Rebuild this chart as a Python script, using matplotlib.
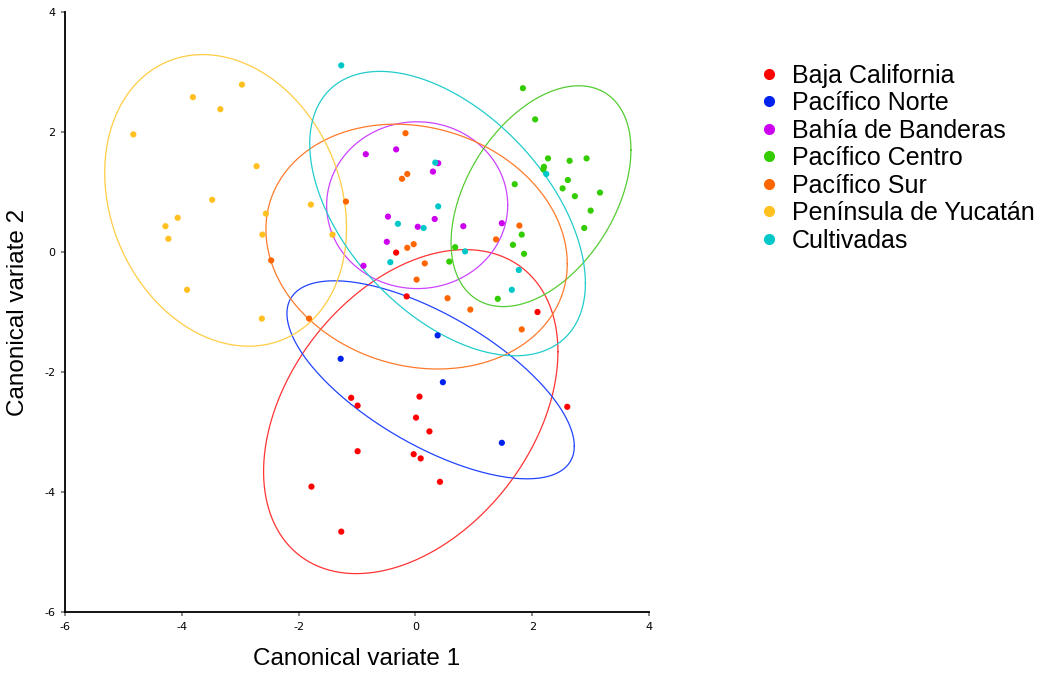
import numpy as np
import matplotlib
matplotlib.use('Agg')
import matplotlib.pyplot as plt
from matplotlib.lines import Line2D

plt.rcParams['axes.unicode_minus'] = False

groups = ['Baja California', 'Pacífico Norte', 'Bahía de Banderas', 'Pacífico Centro',
          'Pacífico Sur', 'Península de Yucatán', 'Cultivadas']
point_colors = ['#ff0000', '#0022ee', '#cc00ee', '#33cc00', '#ff6600', '#ffc020', '#00c8c8']
ring_colors = ['#ff3333', '#2244ff', '#cc44ff', '#55cc33', '#ff7a2a', '#ffcc44', '#22cccc']

# canonical scores
baja_x = [-0.33, -0.15, 2.09, -1.10, -0.99, 0.07, 0.01, 0.24, -0.99, -0.03, 0.09, 0.42, -1.78, -1.27, 2.60]
baja_y = [-0.01, -0.74, -1.00, -2.43, -2.56, -2.41, -2.76, -2.99, -3.32, -3.37, -3.44, -3.83, -3.91, -4.66, -2.58]
norte_x = [0.38, -1.28, 0.47, 1.48]
norte_y = [-1.39, -1.78, -2.17, -3.18]
banderas_x = [-0.85, -0.33, 0.39, 0.30, -0.47, 0.33, 0.04, 0.82, 1.48, -0.49, -0.89]
banderas_y = [1.63, 1.71, 1.48, 1.34, 0.59, 0.55, 0.42, 0.43, 0.48, 0.17, -0.23]
centro_x = [1.84, 2.05, 2.27, 2.64, 2.93, 2.20, 2.19, 1.70, 2.61, 2.52, 2.73, 3.16, 3.00, 2.89,
            1.82, 1.67, 1.86, 0.68, 0.58, 1.41]
centro_y = [2.73, 2.21, 1.56, 1.52, 1.56, 1.42, 1.38, 1.13, 1.20, 1.06, 0.93, 0.99, 0.69, 0.40,
            0.29, 0.12, -0.03, 0.08, -0.16, -0.78]
sur_x = [-1.19, -2.47, -1.82, -0.17, -0.14, -0.23, -0.03, -0.14, 0.16, 0.02, 0.55, 0.94, 1.78, 1.38, 1.82]
sur_y = [0.84, -0.14, -1.11, 1.98, 1.30, 1.22, 0.13, 0.07, -0.19, -0.46, -0.77, -0.96, 0.44, 0.21, -1.29]
yuc_x = [-4.83, -3.81, -3.34, -2.97, -2.72, -3.48, -4.07, -4.28, -4.23, -3.91, -2.56, -2.62, -1.79, -1.42, -2.63]
yuc_y = [1.96, 2.58, 2.38, 2.79, 1.43, 0.87, 0.57, 0.43, 0.22, -0.63, 0.64, 0.29, 0.79, 0.29, -1.11]
cult_x = [-1.27, 0.34, 2.24, 0.39, -0.30, 0.14, -0.43, 0.85, 1.77, 1.65]
cult_y = [3.11, 1.49, 1.30, 0.76, 0.47, 0.40, -0.17, 0.01, -0.30, -0.63]

xs = [baja_x, norte_x, banderas_x, centro_x, sur_x, yuc_x, cult_x]
ys = [baja_y, norte_y, banderas_y, centro_y, sur_y, yuc_y, cult_y]

# ellipses: centre, half extent in x and y, correlation
ell_cx = [-0.08, 0.26, 0.03, 2.15, 0.02, -3.25, 0.55]
ell_cy = [-2.66, -2.13, 0.78, 0.93, 0.09, 0.86, 0.64]
ell_hx = [2.52, 2.46, 1.55, 1.54, 2.58, 2.07, 2.36]
ell_hy = [2.70, 1.65, 1.39, 1.84, 2.04, 2.43, 2.37]
ell_r = [0.37, -0.67, 0.0, 0.42, -0.14, -0.19, -0.49]

fig = plt.figure(figsize=(10.45, 6.73), dpi=100)
ax = fig.add_axes([0.0622, 0.0906, 0.5589, 0.8916])

t = np.linspace(0, 2 * np.pi, 300)
for i in range(len(groups)):
    c = np.array([[ell_hx[i] ** 2, ell_r[i] * ell_hx[i] * ell_hy[i]],
                  [ell_r[i] * ell_hx[i] * ell_hy[i], ell_hy[i] ** 2]])
    L = np.linalg.cholesky(c)
    pts = L @ np.vstack([np.cos(t), np.sin(t)])
    ax.plot(ell_cx[i] + pts[0], ell_cy[i] + pts[1], color=ring_colors[i], lw=0.9, zorder=2)

for i in range(len(groups)):
    ax.scatter(xs[i], ys[i], s=20, color=point_colors[i], edgecolors='none', zorder=3)

ax.set_xlim(-6, 4)
ax.set_ylim(-6, 4)
ax.set_xticks([-6, -4, -2, 0, 2, 4])
ax.set_yticks([-6, -4, -2, 0, 2, 4])
ax.spines['top'].set_visible(False)
ax.spines['right'].set_visible(False)
ax.spines['left'].set_linewidth(1.3)
ax.spines['bottom'].set_linewidth(1.3)
ax.tick_params(labelsize=8, length=3, color='#777777', width=1.2, pad=4)
for lab in ax.get_xticklabels() + ax.get_yticklabels():
    lab.set_family('Liberation Sans Narrow')
ax.set_xlabel('Canonical variate 1', fontsize=17.5, family='Liberation Sans', labelpad=12)
ax.set_ylabel('Canonical variate 2', fontsize=17.5, family='Liberation Sans', labelpad=11)

handles = [Line2D([], [], ls='none', marker='o', markersize=7, color=c) for c in point_colors]
fig.legend(handles, groups, loc='upper left', bbox_to_anchor=(0.7144, 0.9205), frameon=False,
           prop={'family': 'Liberation Sans', 'size': 18}, labelspacing=0.14,
           handletextpad=0.4, handlelength=1.0, borderaxespad=0)

fig.savefig('out.png', dpi=100)
